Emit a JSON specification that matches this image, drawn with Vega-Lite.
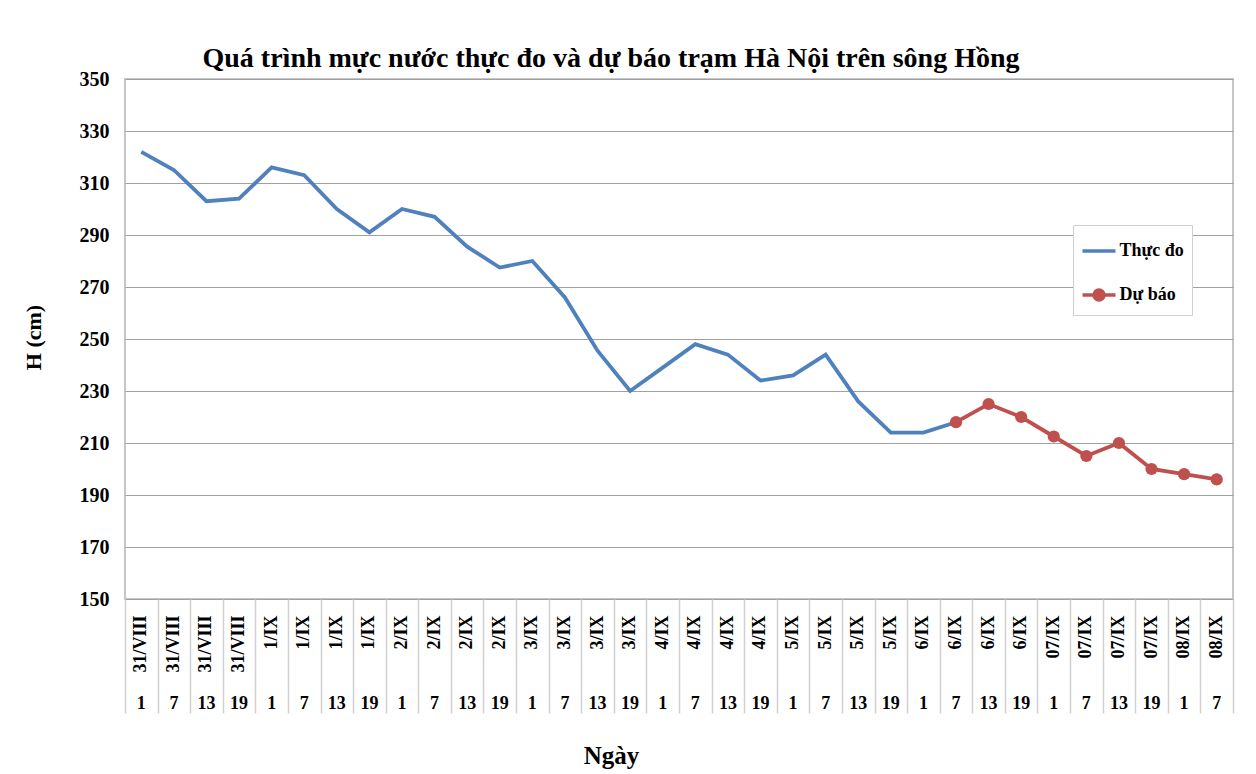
{
  "$schema": "https://vega.github.io/schema/vega-lite/v6.json",
  "width": 1108,
  "height": 520,
  "autosize": {"type": "none"},
  "padding": {"left": 125, "top": 79, "right": 23, "bottom": 175},
  "background": "white",
  "title": {
    "text": "Quá trình mực nước thực đo và dự báo trạm Hà Nội trên sông Hồng",
    "font": "Liberation Serif",
    "fontSize": 28,
    "fontWeight": "bold",
    "color": "black",
    "anchor": "middle",
    "dx": -68,
    "baseline": "alphabetic",
    "offset": -26
  },
  "data": {
    "values": [
      {"t": "31/VIII 1", "s": "Thực đo", "h": 322},
      {"t": "31/VIII 7", "s": "Thực đo", "h": 315},
      {"t": "31/VIII 13", "s": "Thực đo", "h": 303},
      {"t": "31/VIII 19", "s": "Thực đo", "h": 304},
      {"t": "1/IX 1", "s": "Thực đo", "h": 316},
      {"t": "1/IX 7", "s": "Thực đo", "h": 313},
      {"t": "1/IX 13", "s": "Thực đo", "h": 300},
      {"t": "1/IX 19", "s": "Thực đo", "h": 291},
      {"t": "2/IX 1", "s": "Thực đo", "h": 300},
      {"t": "2/IX 7", "s": "Thực đo", "h": 297},
      {"t": "2/IX 13", "s": "Thực đo", "h": 285.5},
      {"t": "2/IX 19", "s": "Thực đo", "h": 277.5},
      {"t": "3/IX 1", "s": "Thực đo", "h": 280},
      {"t": "3/IX 7", "s": "Thực đo", "h": 266},
      {"t": "3/IX 13", "s": "Thực đo", "h": 245.5},
      {"t": "3/IX 19", "s": "Thực đo", "h": 230},
      {"t": "4/IX 1", "s": "Thực đo", "h": 239},
      {"t": "4/IX 7", "s": "Thực đo", "h": 248},
      {"t": "4/IX 13", "s": "Thực đo", "h": 244},
      {"t": "4/IX 19", "s": "Thực đo", "h": 234},
      {"t": "5/IX 1", "s": "Thực đo", "h": 236},
      {"t": "5/IX 7", "s": "Thực đo", "h": 244},
      {"t": "5/IX 13", "s": "Thực đo", "h": 226},
      {"t": "5/IX 19", "s": "Thực đo", "h": 214},
      {"t": "6/IX 1", "s": "Thực đo", "h": 214},
      {"t": "6/IX 7", "s": "Thực đo", "h": 218},
      {"t": "6/IX 7", "s": "Dự báo", "h": 218},
      {"t": "6/IX 13", "s": "Dự báo", "h": 225},
      {"t": "6/IX 19", "s": "Dự báo", "h": 220},
      {"t": "07/IX 1", "s": "Dự báo", "h": 212.5},
      {"t": "07/IX 7", "s": "Dự báo", "h": 205},
      {"t": "07/IX 13", "s": "Dự báo", "h": 210},
      {"t": "07/IX 19", "s": "Dự báo", "h": 200},
      {"t": "08/IX 1", "s": "Dự báo", "h": 198},
      {"t": "08/IX 7", "s": "Dự báo", "h": 196}
    ]
  },
  "encoding": {
    "y": {
      "field": "h",
      "type": "quantitative",
      "scale": {"domain": [150, 350], "nice": false, "zero": false},
      "axis": {
        "values": [150, 170, 190, 210, 230, 250, 270, 290, 310, 330, 350],
        "title": "H (cm)",
        "titleFontSize": 22,
        "titleAngle": 270,
        "titleX": -92,
        "titleY": 258,
        "titleAlign": "center",
        "titleBaseline": "middle",
        "labelFontSize": 20,
        "labelPadding": 16,
        "ticks": false,
        "domain": false,
        "grid": true,
        "gridColor": "#a0a0a0",
        "gridWidth": 1
      }
    }
  },
  "layer": [
    {
      "mark": {"type": "line", "strokeWidth": 3.8},
      "encoding": {
        "x": {
          "field": "t",
          "type": "ordinal",
          "scale": {"type": "band", "paddingInner": 0, "paddingOuter": 0,
            "domain": ["31/VIII 1","31/VIII 7","31/VIII 13","31/VIII 19","1/IX 1","1/IX 7","1/IX 13","1/IX 19","2/IX 1","2/IX 7","2/IX 13","2/IX 19","3/IX 1","3/IX 7","3/IX 13","3/IX 19","4/IX 1","4/IX 7","4/IX 13","4/IX 19","5/IX 1","5/IX 7","5/IX 13","5/IX 19","6/IX 1","6/IX 7","6/IX 13","6/IX 19","07/IX 1","07/IX 7","07/IX 13","07/IX 19","08/IX 1","08/IX 7"]},
          "axis": {
            "orient": "bottom",
            "title": null,
            "labelExpr": "split(datum.value, ' ')[0]",
            "labelAngle": 270,
            "labelAlign": "right",
            "labelBaseline": "middle",
            "labelPadding": 16,
            "labelFontSize": 18,
            "labelOverlap": false,
            "ticks": false,
            "domain": false,
            "grid": false
          }
        },
        "color": {
          "field": "s",
          "type": "nominal",
          "scale": {"domain": ["Thực đo", "Dự báo"], "range": ["#4F81BD", "#C0504D"]},
          "legend": {
            "title": null,
            "orient": "none",
            "legendX": 948,
            "legendY": 146,
            "symbolType": "stroke",
            "symbolSize": 1089,
            "symbolStrokeWidth": 3.5,
            "labelFontSize": 18,
            "labelOffset": 2,
            "rowPadding": 16,
            "padding": 7.5,
            "strokeColor": "#d0d0d0",
            "fillColor": "white",
            "encode": {
              "symbols": {
                "update": {
                  "shape": {"signal": "datum.value === 'Dự báo' ? 'M-1,0H1M0.3,0A0.3,0.3,0,1,1,-0.3,0A0.3,0.3,0,1,1,0.3,0Z' : 'stroke'"},
                  "fill": {"signal": "datum.value === 'Dự báo' ? '#C0504D' : 'transparent'"},
                  "strokeWidth": {"value": 3.5}
                }
              }
            }
          }
        }
      }
    },
    {
      "transform": [{"filter": "datum.s === 'Dự báo'"}],
      "mark": {"type": "point", "filled": true, "size": 150, "opacity": 1, "color": "#C0504D"},
      "encoding": {
        "x": {
          "field": "t",
          "type": "ordinal",
          "axis": {
            "orient": "bottom",
            "title": "Ngày",
            "titleFontSize": 25,
            "titleX": 486,
            "titleY": 164,
            "titleAlign": "center",
            "titleBaseline": "alphabetic",
            "labelExpr": "split(datum.value, ' ')[1]",
            "labelAngle": 0,
            "labelAlign": "center",
            "labelBaseline": "middle",
            "labelPadding": 104,
            "labelFontSize": 18,
            "labelOverlap": false,
            "ticks": false,
            "domain": false,
            "grid": false
          }
        }
      }
    },
    {
      "mark": {"type": "point", "opacity": 0},
      "encoding": {
        "x": {
          "field": "t",
          "type": "ordinal",
          "axis": {
            "orient": "bottom",
            "title": null,
            "labels": false,
            "ticks": true,
            "tickBand": "extent",
            "tickSize": 114,
            "tickColor": "#d0d0d0",
            "tickWidth": 1.5,
            "domain": false,
            "grid": false
          }
        }
      }
    }
  ],
  "resolve": {"axis": {"x": "independent"}},
  "config": {
    "font": "Liberation Serif",
    "view": {"stroke": "#c6c6c6", "strokeWidth": 2},
    "axis": {
      "labelFont": "Liberation Serif",
      "labelFontWeight": "bold",
      "labelColor": "black",
      "titleFont": "Liberation Serif",
      "titleFontWeight": "bold",
      "titleColor": "black"
    },
    "legend": {
      "labelFont": "Liberation Serif",
      "labelFontWeight": "bold",
      "labelColor": "black"
    }
  }
}
